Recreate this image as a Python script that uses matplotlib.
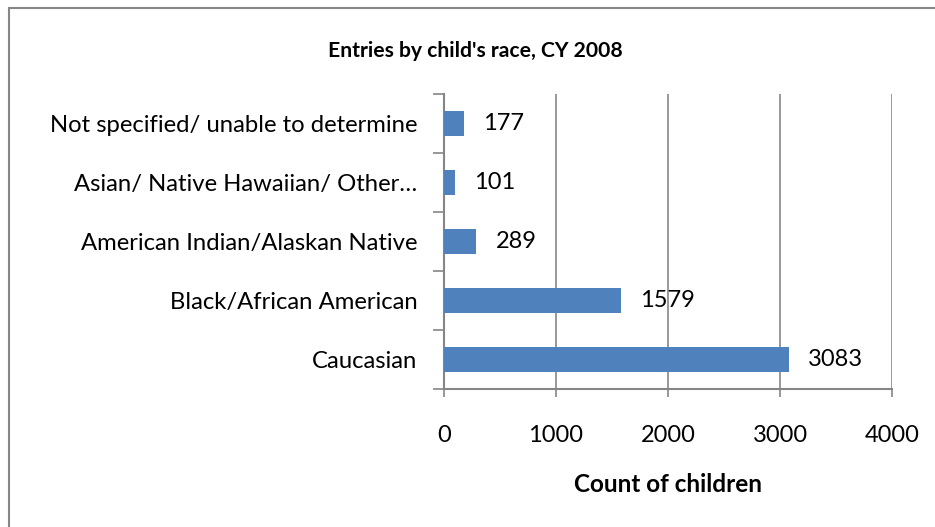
import matplotlib.pyplot as plt
from matplotlib.patches import Rectangle

categories = ['Caucasian', 'Black/African American', 'American Indian/Alaskan Native',
              'Asian/ Native Hawaiian/ Other…', 'Not specified/ unable to determine']
counts = [3083, 1579, 289, 101, 177]
xticks = [0, 1000, 2000, 3000, 4000]

plt.rcParams['font.family'] = ['Lato', 'DejaVu Sans']
grey = '#868686'

fig = plt.figure(figsize=(9.35, 5.27), dpi=100)
ax = fig.add_axes([444 / 935, 1 - 389 / 527, 448 / 935, 295 / 527])

# outer chart border (only top/left visible, rest is cropped)
fig.patches.append(Rectangle((9 / 935, -0.1), 1.2, 1 - 8 / 527 + 0.1,
                             transform=fig.transFigure, fill=False,
                             edgecolor=grey, linewidth=1.5))

y = range(len(categories))
ax.barh(y, counts, height=0.41, color='#4F81BD', zorder=3)
for i, v in zip(y, counts):
    ax.text(v + 170, i, str(v), va='center', ha='left', fontsize=17)

ax.set_xlim(0, 4000)
ax.set_ylim(-0.5, len(categories) - 0.5)
ax.set_xticks(xticks)
ax.set_xticklabels([str(t) for t in xticks], fontsize=17)
ax.set_yticks(list(y))
ax.set_yticklabels(categories, fontsize=17.2)
ax.tick_params(axis='y', length=0, pad=19)
ax.set_yticks([i - 0.5 for i in range(len(categories) + 1)], minor=True)
ax.tick_params(axis='y', which='minor', length=8, color=grey, width=1.2)
ax.tick_params(axis='x', length=6, color=grey, width=1.2, pad=20)

ax.grid(axis='x', color=grey, linewidth=1.2, zorder=0)
for s in ['top', 'right']:
    ax.spines[s].set_visible(False)
for s in ['left', 'bottom']:
    ax.spines[s].set_color(grey)
    ax.spines[s].set_linewidth(1.5)

ax.set_xlabel('Count of children', fontsize=17.5, fontweight='bold', labelpad=19)
fig.text(475 / 935, 1 - 51 / 527, "Entries by child's race, CY 2008",
         ha='center', va='center', fontsize=15.2, fontweight='bold')

plt.savefig('out.png', dpi=100)
